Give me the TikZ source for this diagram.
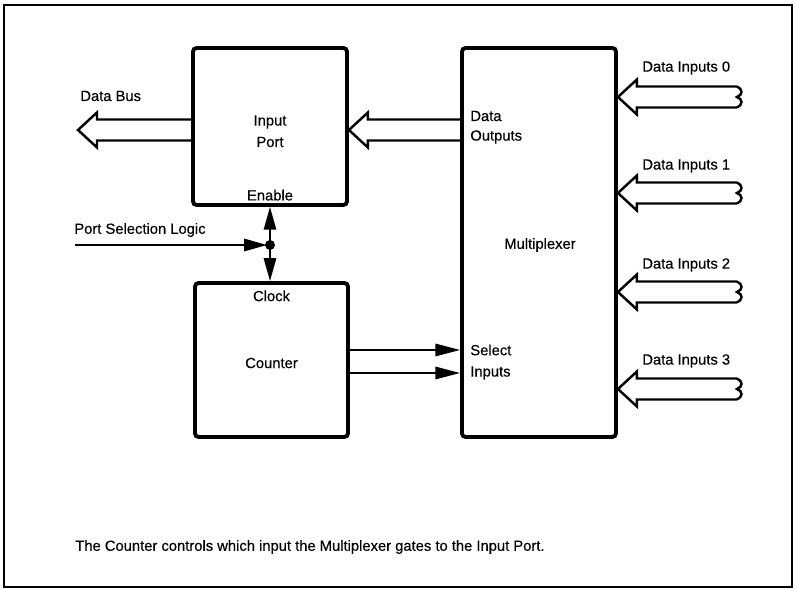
\documentclass[tikz,border=0pt]{standalone}
\usepackage{fontspec}
\setmainfont{Liberation Sans}[FakeBold=0.35]
\usepackage{tikz}
\usetikzlibrary{arrows.meta, positioning, calc}

\tikzset{
  blockbox/.style={draw, line width=2.2pt, rounded corners=2pt, inner sep=0pt},
  busline/.style={line width=1.4pt, line join=miter},
  wire/.style={line width=1.1pt},
  head/.style={-{Triangle[length=13pt,width=7pt]}},
  lbl/.style={font=\fontsize{8.4}{10}\selectfont, inner sep=0pt, anchor=west},
}
% seta larga (vazada) apontando para a esquerda: #1 = ponta, #2 = cauda
\newcommand{\busarrow}[2]{%
  \draw[busline] ($(#2)+(0,-10.5)$) -- ($(#1)+(19,-10.5)$) -- ($(#1)+(19,-17.5)$)
    -- (#1) -- ($(#1)+(19,17.5)$) -- ($(#1)+(19,10.5)$) -- ($(#2)+(0,10.5)$);
}
% extremidade ondulada
\newcommand{\wavyend}[1]{%
  \draw[busline] ($(#1)+(0,-10.5)$) .. controls ($(#1)+(6,-8)$) and ($(#1)+(6,-2)$) .. (#1)
    .. controls ($(#1)+(6,2)$) and ($(#1)+(6,8)$) .. ($(#1)+(0,10.5)$);
}

\begin{document}
\begin{tikzpicture}[x=0.02cm, y=-0.02cm, >=latex]
  \useasboundingbox (0,0) rectangle (796,590);
  \draw[line width=1.1pt] (4,5) rectangle (792,587);

  % blocos
  \node[blockbox, minimum width=3.08cm, minimum height=3.14cm] (inport) at (270,126.5) {};
  \node[blockbox, minimum width=3.06cm, minimum height=3.08cm] (counter) at (271.5,360) {};
  \node[blockbox, minimum width=3.08cm, minimum height=7.78cm] (mux) at (539,242.5) {};

  \node[lbl, anchor=center] (inlbl) at (270,122) {Input};
  \node[lbl, anchor=center] at (270,142) {Port};
  \node[lbl, anchor=south] (enable) at ($(inport.south)+(0,-6)$) {Enable};
  \node[lbl, anchor=north] (clock) at ($(counter.north)+(0,9)$) {Clock};
  \node[lbl, anchor=center] at (271.5,363) {Counter};
  \node[lbl, anchor=center] at (540,245) {Multiplexer};

  % barramento de dados
  \coordinate (dbtip) at (78,130);
  \busarrow{dbtip}{inport.west |- dbtip}
  \node[lbl] at (80,96) {Data Bus};

  \coordinate (dotip) at (inport.east |- 0,130);
  \busarrow{dotip}{mux.west |- dotip}
  \node[lbl] at (470,116) {Data};
  \node[lbl] at (470,137) {Outputs};

  % entradas de dados
  \foreach \k/\yy/\ly in {0/97/68, 1/193/166, 2/292/265, 3/389/361} {
    \coordinate (ditip\k) at (mux.east |- 0,\yy);
    \coordinate (ditail\k) at (737,\yy);
    \busarrow{ditip\k}{ditail\k}
    \wavyend{ditail\k}
    \node[lbl] at (642,\ly) {Data Inputs \k};
  }

  % logica de selecao
  \coordinate (jn) at (inport.south |- 0,245);
  \coordinate (psl) at (75,245);
  \draw[wire, head] (psl) -- ($(jn)+(-3,0)$);
  \draw[wire, head] (jn) -- (inport.south);
  \draw[wire, head] (jn) -- (counter.north -| jn);
  \fill (jn) circle (5);
  \node[lbl] at (74,230) {Port Selection Logic};

  % entradas de selecao
  \draw[wire, -{Triangle[length=14pt,width=7pt]}] (counter.east |- 0,350) -- (mux.west |- 0,350);
  \draw[wire, -{Triangle[length=14pt,width=7pt]}] (counter.east |- 0,373) -- (mux.west |- 0,373);
  \node[lbl] at (470,350) {Select};
  \node[lbl] at (470,373) {Inputs};

  \node[lbl] at (75,547) {The Counter controls which input the Multiplexer gates to the Input Port.};
\end{tikzpicture}
\end{document}
